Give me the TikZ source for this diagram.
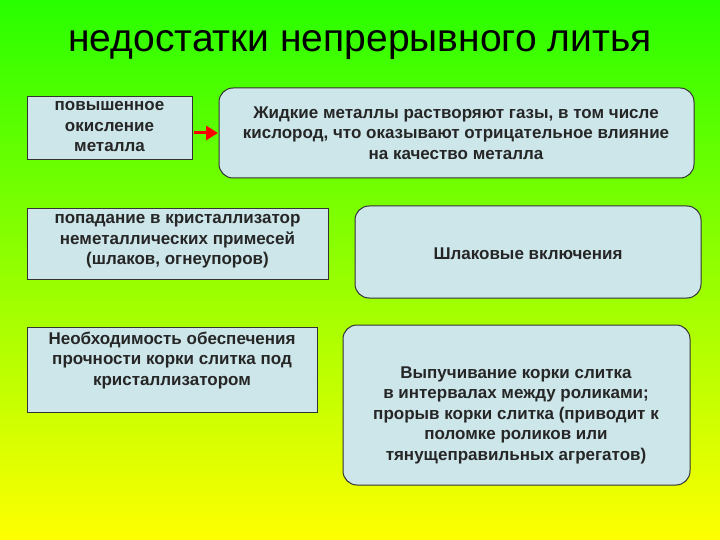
\documentclass[tikz,border=0pt]{standalone}
\usepackage{fontspec}
\setmainfont{Liberation Sans}
\usetikzlibrary{arrows.meta}
\definecolor{boxfill}{RGB}{205,230,234}
\definecolor{topgreen}{RGB}{40,255,0}
\begin{document}
\begin{tikzpicture}[x=1pt,y=-1pt,
  box/.style={draw=black!80,line width=1pt,fill=boxfill,inner sep=0pt},
  rbox/.style={box,rounded corners=14pt},
  txt/.style={align=center,font=\fontsize{17}{20.5}\selectfont\bfseries,text=black!85}]
\useasboundingbox (0,0) rectangle (720,540);
\shade[top color=topgreen,bottom color=yellow] (0,0) rectangle (720,540);
\node[font=\fontsize{39}{44}\selectfont] (title) at (360,45) {недостатки непрерывного литья};
\draw[box] (27,97) rectangle (192,160);
\node[txt,anchor=north] (t1) at (109.5,98) {повышенное\\окисление\\металла};
\draw[rbox] (219,88) rectangle (694,178);
\node[txt,anchor=north] (t2) at (456,103) {Жидкие металлы растворяют газы, в том числе\\кислород, что оказывают отрицательное влияние\\на качество металла};
\draw[box] (27,209) rectangle (328,279);
\node[txt,anchor=north] (t3) at (177.5,211) {попадание в кристаллизатор\\неметаллических примесей\\(шлаков, огнеупоров)};
\draw[rbox] (355,206) rectangle (701,298);
\node[txt] (t4) at (528,254) {Шлаковые включения};
\draw[box] (27,327) rectangle (317,412);
\node[txt,anchor=north] (t5) at (172,328) {Необходимость обеспечения\\прочности корки слитка под\\кристаллизатором};
\draw[rbox] (343,325) rectangle (690,485);
\node[txt,anchor=north] (t6) at (516,363) {Выпучивание корки слитка\\в интервалах между роликами;\\прорыв корки слитка (приводит к\\поломке роликов или\\тянущеправильных агрегатов)};
\coordinate (a1) at (194,133);
\coordinate (a2) at (218,133);
\draw[red,line width=3pt,-{Triangle[length=12pt,width=14pt]}] (a1) -- (a2);
\end{tikzpicture}
\end{document}
